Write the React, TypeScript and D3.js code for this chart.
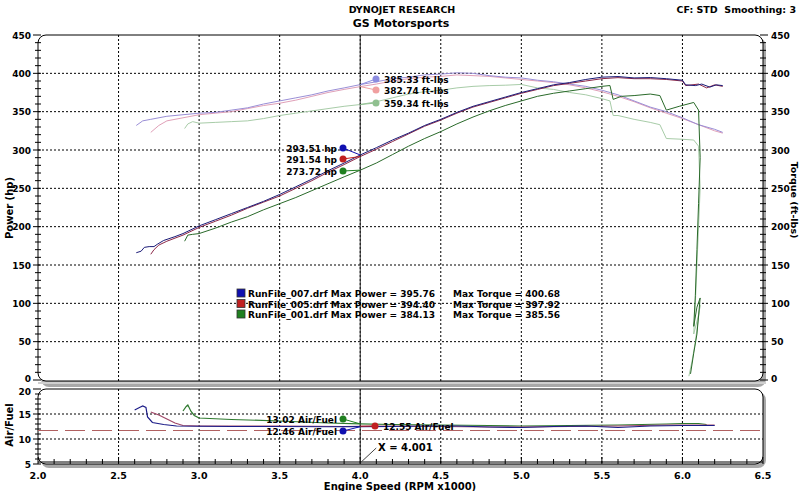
import React from "react";
import * as d3 from "d3";

type P = [number, number];

const power007: P[] = [
  [2.61, 166], [2.64, 168], [2.66, 173], [2.69, 174], [2.72, 174], [2.74, 177], [2.78, 182], [2.85, 187], [2.9, 191], [3.0, 201],
  [3.1, 209], [3.2, 217], [3.3, 225], [3.4, 233], [3.5, 242], [3.6, 252], [3.7, 262], [3.8, 273],
  [3.9, 283], [4.0, 293.5], [4.1, 303], [4.2, 313], [4.3, 322], [4.4, 332], [4.5, 340], [4.6, 349],
  [4.7, 357], [4.8, 363], [4.9, 369], [5.0, 375], [5.1, 380], [5.2, 385], [5.3, 388], [5.4, 392],
  [5.5, 395], [5.6, 395.8], [5.7, 394], [5.8, 394.5], [5.9, 393], [6.0, 391], [6.02, 385], [6.08, 384],
  [6.12, 386], [6.17, 382], [6.21, 385], [6.25, 384],
];
const power005: P[] = [
  [2.7, 164], [2.72, 170], [2.75, 176], [2.8, 181], [2.9, 189], [3.0, 199], [3.1, 207], [3.2, 215],
  [3.3, 224], [3.4, 232], [3.5, 240], [3.6, 250], [3.7, 260], [3.8, 271], [3.9, 281], [4.0, 291.5],
  [4.1, 301], [4.2, 311], [4.3, 321], [4.4, 331], [4.5, 339], [4.6, 348], [4.7, 356], [4.8, 362],
  [4.9, 368], [5.0, 374], [5.1, 379], [5.2, 384], [5.3, 387], [5.4, 390], [5.5, 393], [5.6, 394.4],
  [5.7, 393], [5.8, 393], [5.9, 392], [6.0, 390], [6.02, 384], [6.1, 386], [6.15, 381], [6.2, 385], [6.25, 383],
];
const power001: P[] = [
  [2.91, 181], [2.93, 189], [2.96, 190], [3.0, 191], [3.1, 198], [3.2, 206], [3.3, 213], [3.4, 222],
  [3.5, 230], [3.6, 238], [3.7, 247], [3.8, 256], [3.9, 265], [4.0, 273.7], [4.1, 283], [4.2, 294],
  [4.3, 305], [4.4, 315], [4.5, 324], [4.6, 334], [4.7, 343], [4.8, 351], [4.9, 358], [5.0, 364],
  [5.1, 370], [5.2, 374], [5.3, 377], [5.4, 380], [5.5, 383], [5.55, 384.1], [5.57, 366], [5.62, 370],
  [5.7, 371], [5.8, 373], [5.86, 371], [5.9, 352], [5.98, 357], [6.07, 362], [6.1, 352], [6.11, 290],
  [6.1, 230], [6.09, 170], [6.08, 110], [6.07, 70], [6.09, 95], [6.11, 107], [6.09, 60], [6.07, 35], [6.05, 8],
];
const torque007: P[] = [
  [2.61, 332], [2.65, 338], [2.7, 340], [2.8, 344], [2.9, 346], [3.0, 348], [3.1, 349], [3.2, 352],
  [3.3, 355], [3.4, 360], [3.5, 364], [3.6, 368], [3.7, 372], [3.8, 377], [3.9, 381], [4.0, 385.3],
  [4.1, 389], [4.2, 393], [4.3, 395], [4.4, 398], [4.5, 399], [4.6, 400.7], [4.7, 400], [4.8, 397],
  [4.9, 395], [5.0, 394], [5.1, 391], [5.2, 389], [5.3, 386], [5.4, 383], [5.5, 378], [5.6, 372],
  [5.7, 364], [5.8, 356], [5.9, 350], [6.0, 342], [6.1, 333], [6.2, 327], [6.25, 323],
];
const torque005: P[] = [
  [2.7, 323], [2.75, 332], [2.8, 338], [2.9, 342], [3.0, 346], [3.1, 348], [3.2, 350], [3.3, 354],
  [3.4, 358], [3.5, 361], [3.6, 365], [3.7, 370], [3.8, 375], [3.9, 379], [4.0, 382.7], [4.1, 386],
  [4.2, 390], [4.3, 393], [4.4, 395], [4.5, 396], [4.6, 397.9], [4.7, 397], [4.8, 396], [4.9, 394],
  [5.0, 392], [5.1, 390], [5.2, 388], [5.3, 385], [5.4, 381], [5.5, 376], [5.6, 370], [5.7, 363],
  [5.8, 355], [5.9, 348], [6.0, 341], [6.1, 333], [6.2, 325], [6.25, 322],
];
const torque001: P[] = [
  [2.91, 328], [2.93, 334], [2.96, 337], [3.0, 335], [3.1, 336], [3.2, 337], [3.3, 338], [3.4, 341],
  [3.5, 345], [3.6, 348], [3.7, 351], [3.8, 354], [3.9, 357], [4.0, 359.3], [4.1, 363], [4.2, 368],
  [4.3, 373], [4.4, 376], [4.5, 378], [4.6, 381], [4.7, 383], [4.8, 384], [4.9, 384.5], [5.0, 385.5],
  [5.1, 381], [5.2, 379], [5.3, 375], [5.4, 372], [5.5, 367], [5.55, 364], [5.57, 345], [5.6, 345],
  [5.7, 340], [5.8, 336], [5.86, 333], [5.9, 315], [6.0, 314], [6.07, 313], [6.1, 305], [6.11, 250],
  [6.1, 200], [6.09, 150], [6.08, 100], [6.07, 60], [6.1, 85], [6.11, 98], [6.08, 50], [6.06, 25], [6.04, 5],
];
const afr007: P[] = [
  [2.6, 15.8], [2.63, 16.3], [2.65, 16.6], [2.67, 16.3], [2.68, 14.4], [2.71, 13.3], [2.78, 12.9],
  [2.86, 12.6], [3.0, 12.55], [3.2, 12.5], [3.5, 12.5], [3.8, 12.45], [4.0, 12.46], [4.2, 12.5],
  [4.4, 12.6], [4.6, 12.6], [4.8, 12.4], [5.0, 12.3], [5.2, 12.5], [5.4, 12.6], [5.6, 12.3],
  [5.8, 12.6], [6.0, 12.7], [6.2, 12.7],
];
const afr005: P[] = [
  [2.7, 15.4], [2.75, 14.8], [2.8, 14.0], [2.85, 13.2], [2.9, 12.7], [3.0, 12.6], [3.5, 12.6],
  [3.9, 12.5], [4.0, 12.55], [4.2, 12.6], [4.5, 12.5], [4.8, 12.4], [5.0, 12.4], [5.3, 12.5],
  [5.6, 12.6], [5.9, 12.8], [6.1, 12.8], [6.2, 12.8],
];
const afr001: P[] = [
  [2.9, 15.6], [2.92, 16.5], [2.93, 16.8], [2.95, 15.5], [2.97, 14.7], [3.0, 14.2], [3.2, 13.9],
  [3.5, 13.6], [3.8, 13.2], [4.0, 13.02], [4.2, 12.9], [4.5, 12.8], [4.8, 12.7], [5.0, 12.6],
  [5.3, 12.7], [5.6, 12.8], [5.9, 13.0], [6.0, 13.1], [6.1, 13.1], [6.15, 12.9],
];

const xTicks = [2.0, 2.5, 3.0, 3.5, 4.0, 4.5, 5.0, 5.5, 6.0, 6.5];
const yMainTicks = [0, 50, 100, 150, 200, 250, 300, 350, 400, 450];
const yAfrTicks = [5, 10, 15, 20];
const afrTarget = 11.7;
const cursorX = 4.0;

const runNames = ["RunFile_007.drf", "RunFile_005.drf", "RunFile_001.drf"];
const maxPower = ["395.76", "394.40", "384.13"];
const maxTorque = ["400.68", "397.92", "385.56"];
const hpAt = [293.51, 291.54, 273.72];
const tqAt = [385.33, 382.74, 359.34];
const afrAt = [12.46, 12.55, 13.02];

const FONT = "'DejaVu Sans', Verdana, sans-serif";

export default function App() {
  const L = 38, R = 763;
  const x = d3.scaleLinear().domain([2, 6.5]).range([L, R]);
  const yM = d3.scaleLinear().domain([0, 450]).range([380, 35]);
  const yA = d3.scaleLinear().domain([5, 20]).range([464, 389]);
  const lineM = d3.line<P>().x((d) => x(d[0])).y((d) => yM(d[1]));
  const lineA = d3.line<P>().x((d) => x(d[0])).y((d) => yA(d[1]));

  const pColors = ["#1c1c78", "#8c2848", "#2a6a2a"];
  const tColors = ["#9a8ed6", "#e0a0b8", "#a8cca8"];
  const mkP = ["#1010b0", "#c02020", "#208020"];
  const mkT = ["#8c8ce0", "#f0a0a0", "#90c090"];
  const afrColors = ["#1c1c88", "#a04868", "#2e7a2e"];

  const grid = { stroke: "#000", strokeWidth: 1, strokeDasharray: "2,2" };
  const minorMain = d3.range(0, 451, 10);
  const minorX = d3.range(2.0, 6.501, 0.1);
  const minorAfr = d3.range(5, 20.01, 1);

  const mTop = 35, mBot = 381, aTop = 389, aBot = 464;
  const cx = x(cursorX);

  return (
    <svg width={800} height={491} style={{ position: "absolute", left: 0, top: 0, background: "#fff" }}
      fontFamily={FONT} fontWeight="bold">
      <rect x={0} y={0} width={800} height={491} fill="#fff" />
      {/* header */}
      <text x={402} y={13} fontSize={9.5} textAnchor="middle">DYNOJET RESEARCH</text>
      <text x={401} y={27} fontSize={11} textAnchor="middle">GS Motorsports</text>
      <text x={796} y={13} fontSize={9.5} textAnchor="end" style={{ whiteSpace: "pre" }}>CF: STD  Smoothing: 3</text>

      {/* main frame */}
      <rect x={L + 3} y={mTop + 3} width={R - L} height={mBot - mTop + 3} rx={8} fill="#a8a8a8" />
      <rect x={L} y={mTop} width={R - L} height={mBot - mTop} rx={8} fill="#fff" stroke="#000" strokeWidth={1} />
      <line x1={L} x2={R + 3} y1={mBot + 2} y2={mBot + 2} stroke="#cfcfcf" strokeWidth={2} />
      {/* afr frame */}
      <rect x={L + 3} y={aTop + 3} width={R - L} height={aBot - aTop + 1} rx={8} fill="#a8a8a8" />
      <rect x={L} y={aTop} width={R - L} height={aBot - aTop} rx={8} fill="#fff" stroke="#000" strokeWidth={1} />

      {/* grids */}
      {yMainTicks.filter((t) => t > 0 && t < 450).map((t) => (
        <line key={"gm" + t} x1={L} x2={R} y1={yM(t)} y2={yM(t)} {...grid} />
      ))}
      {xTicks.filter((t) => t > 2 && t < 6.5).map((t) => (
        <g key={"gx" + t}>
          <line x1={x(t)} x2={x(t)} y1={mTop} y2={mBot} {...grid} />
          <line x1={x(t)} x2={x(t)} y1={aTop} y2={aBot} {...grid} />
        </g>
      ))}
      {yAfrTicks.filter((t) => t > 5 && t < 20).map((t) => (
        <line key={"ga" + t} x1={L} x2={R} y1={yA(t)} y2={yA(t)} {...grid} />
      ))}

      {/* axes ticks main */}
      {minorMain.map((t) => (
        <g key={"mt" + t}>
          <line x1={L - (t % 50 === 0 ? 5 : 3)} x2={L + 3} y1={yM(t)} y2={yM(t)} stroke="#000" />
          <line x1={R - 3} x2={R + (t % 50 === 0 ? 5 : 3)} y1={yM(t)} y2={yM(t)} stroke="#000" />
        </g>
      ))}
      {yMainTicks.map((t) => (
        <g key={"ml" + t}>
          <text x={31} y={yM(t) + (t === 0 ? 2 : 3.5)} fontSize={9} textAnchor="end">{t}</text>
          <text x={771} y={yM(t) + (t === 0 ? 2 : 3.5)} fontSize={9}>{t}</text>
        </g>
      ))}
      {/* afr axis ticks */}
      {minorAfr.map((t) => (
        <line key={"at" + t} x1={L - (t % 5 === 0 ? 5 : 3)} x2={L + 3} y1={yA(t)} y2={yA(t)} stroke="#000" />
      ))}
      {yAfrTicks.map((t) => (
        <text key={"al" + t} x={31} y={yA(t) + (t === 20 ? 6 : 3.5)} fontSize={9} textAnchor="end">{t}</text>
      ))}
      <line x1={L} x2={R} y1={aBot - 2} y2={aBot - 2} stroke="#000" />
      {minorX.map((t, i) => (
        <line key={"xt" + i} x1={x(t)} x2={x(t)} y1={aBot - (i % 5 === 0 ? 7 : 5)} y2={aBot} stroke="#000" />
      ))}
      {xTicks.map((t) => (
        <text key={"xl" + t} x={x(t)} y={479} fontSize={9.5} textAnchor="middle">{t.toFixed(1)}</text>
      ))}
      <text x={400} y={490} fontSize={10} textAnchor="middle">Engine Speed (RPM x1000)</text>
      <text transform="translate(13,208) rotate(-90)" fontSize={10} textAnchor="middle">Power (hp)</text>
      <text transform="translate(791,200) rotate(90)" fontSize={9.5} textAnchor="middle">Torque (ft-lbs)</text>
      <text transform="translate(13,425) rotate(-90)" fontSize={10} textAnchor="middle">Air/Fuel</text>

      {/* afr target dashed */}
      <line x1={L} x2={R} y1={yA(afrTarget)} y2={yA(afrTarget)} stroke="#b06060" strokeWidth={1.2} strokeDasharray="20,7" />

      {/* curves */}
      {[torque001, torque005, torque007].map((d, i) => (
        <path key={"tq" + i} d={lineM(d) || ""} fill="none" stroke={tColors[2 - i]} strokeWidth={1} />
      ))}
      {[power001, power005, power007].map((d, i) => (
        <path key={"pw" + i} d={lineM(d) || ""} fill="none" stroke={pColors[2 - i]} strokeWidth={1} />
      ))}
      {[afr001, afr005, afr007].map((d, i) => (
        <path key={"af" + i} d={lineA(d) || ""} fill="none" stroke={afrColors[2 - i]} strokeWidth={1.2} />
      ))}

      {/* cursor */}
      <line x1={cx} x2={cx} y1={mTop} y2={mBot} stroke="#222" strokeWidth={1} />
      <line x1={cx} x2={cx} y1={aTop} y2={aBot} stroke="#222" strokeWidth={1} />
      <line x1={cx + 1} x2={cx + 16} y1={aBot - 2} y2={aBot - 16} stroke="#444" />
      <text x={378} y={451} fontSize={10}>X = 4.001</text>

      {/* torque annotations */}
      {tqAt.map((v, i) => {
        const my = [79, 90, 103][i];
        return (
          <g key={"ta" + i}>
            <line x1={376} y1={my} x2={cx} y2={yM(v)} stroke={mkT[i]} />
            <circle cx={376} cy={my} r={3.5} fill={mkT[i]} />
            <text x={384} y={my + 4} fontSize={9}>{v.toFixed(2)} ft-lbs</text>
          </g>
        );
      })}
      {hpAt.map((v, i) => {
        const my = [148, 159, 171][i];
        return (
          <g key={"ha" + i}>
            <line x1={343} y1={my} x2={cx} y2={yM(v)} stroke={mkP[i]} />
            <circle cx={343} cy={my} r={3.5} fill={mkP[i]} />
            <text x={337} y={my + 4} fontSize={9} textAnchor="end">{v.toFixed(2)} hp</text>
          </g>
        );
      })}
      {/* AFR annotations: order 007 blue, 005 red, 001 green */}
      {[
        { v: afrAt[0], mx: 343, my: 431, c: mkP[0], tx: 337, anchor: "end" },
        { v: afrAt[1], mx: 375, my: 426, c: mkP[1], tx: 383, anchor: "start" },
        { v: afrAt[2], mx: 343, my: 419, c: mkP[2], tx: 337, anchor: "end" },
      ].map((a, i) => (
        <g key={"aa" + i}>
          <line x1={a.mx} y1={a.my} x2={cx} y2={yA(a.v)} stroke={a.c} />
          <circle cx={a.mx} cy={a.my} r={3.5} fill={a.c} />
          <text x={a.tx} y={a.my + 4} fontSize={9} textAnchor={a.anchor as any}>{a.v.toFixed(2)} Air/Fuel</text>
        </g>
      ))}

      {/* legend */}
      {runNames.map((n, i) => {
        const y = 297 + i * 10.5;
        return (
          <g key={"lg" + i}>
            <rect x={237} y={y - 8} width={8} height={8} fill={mkP[i]} stroke="#333" strokeWidth={0.8} />
            <text x={248} y={y} fontSize={9}>{n} Max Power = {maxPower[i]}</text>
            <text x={453} y={y} fontSize={9}>Max Torque = {maxTorque[i]}</text>
          </g>
        );
      })}
    </svg>
  );
}
